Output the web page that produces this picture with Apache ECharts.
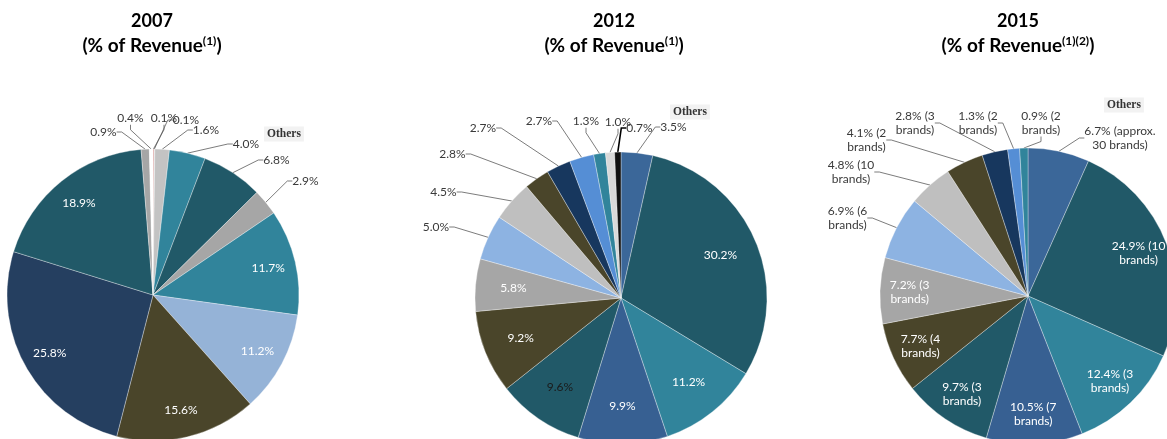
<!DOCTYPE html>
<html><head><meta charset="utf-8">
<script src="https://cdn.jsdelivr.net/npm/echarts@6/dist/echarts.min.js"></script>
<style>html,body{margin:0;padding:0;background:#fff}#c{width:1167px;height:439px}</style>
</head><body><div id="c"></div>
<script>
// ---- data ----
const values2007 = [0.1, 0.1, 1.6, 4.0, 6.8, 2.9, 11.7, 11.2, 15.6, 25.8, 18.9, 0.9, 0.4];
const values2012 = [3.5, 30.2, 11.2, 9.9, 9.6, 9.2, 5.8, 5.0, 4.5, 2.8, 2.7, 2.7, 1.3, 1.0, 0.7];
const values2015 = [6.7, 24.9, 12.4, 10.5, 9.7, 7.7, 7.2, 6.9, 4.8, 4.1, 2.8, 1.3, 0.9];
const brands2015 = ['approx. 30', '10', '3', '7', '3', '4', '3', '6', '10', '2', '3', '2', '2'];
const titleYears = ['2007', '2012', '2015'];
const titleNotes = ['(1)', '(1)', '(1)(2)'];
const othersText = 'Others';

// ---- styles ----
const DT = '#215968', TE = '#31849b', NV = '#253f60', OL = '#4a452a', LB = '#95b3d7',
      GR = '#a6a6a6', LG = '#bfbfbf', BL = '#3b6799', NV2 = '#17375e', BL2 = '#558ed5', LB2 = '#8db3e2';
const colors2007 = ['#c0504d', '#d9d9d9', '#c3c3c3', TE, DT, GR, TE, LB, OL, NV, DT, GR, '#ffffff'];
const colors2012 = [BL, DT, TE, '#376092', DT, OL, GR, LB2, LG, OL, NV2, BL2, TE, '#d9d9d9', '#111111'];
const colors2015 = [BL, DT, TE, '#376092', DT, OL, GR, LB2, LG, OL, NV2, BL2, TE];

const pct = v => v.toFixed(1) + '%';
const brandText = (v, b) => { const w = (b + ' brands').split(' '); return pct(v) + ' (' + w[0] + '\n' + w.slice(1).join(' ') + ')'; };

const pies = [
  { values: values2007, colors: colors2007, center: [153, 295], r: 146, inner: 0.58,
    inside: [6, 7, 8, 9, 10], text: i => pct(values2007[i]),
    spots: {0: [164, 118], 1: [186, 120], 2: [206, 130], 3: [246, 144], 4: [276.5, 160], 5: [305.5, 181], 11: [103.5, 132], 12: [130.5, 118]},
    titleX: 152, othersPos: [284, 134] },
  { values: values2012, colors: colors2012, center: [621, 298], r: 146, inner: 0.44,
    inside: [1, 2, 3, 4, 5, 6], text: i => pct(values2012[i]), darkInside: [4],
    spots: {0: [673.5, 127], 14: [639.5, 128], 13: [618, 122], 12: [586, 121], 11: [539, 121], 10: [483, 128], 9: [452.5, 154], 8: [443.5, 192], 7: [436, 227]},
    titleX: 614, othersPos: [690, 112] },
  { values: values2015, colors: colors2015, center: [1028, 296], r: 148, inner: 0.56,
    inside: [1, 2, 3, 4, 5, 6], text: i => brandText(values2015[i], brands2015[i]),
    spots: {0: [1120, 138], 12: [1041, 123], 11: [978, 123], 10: [915, 123], 9: [866.5, 140], 8: [851, 172], 7: [847.5, 218]},
    titleX: 1018, othersPos: [1124, 105] }
];

const FONT = 'Lato, "Open Sans", sans-serif';
const series = [];
pies.forEach((p, si) => {
  series.push({
    type: 'pie', center: p.center, radius: p.r, startAngle: 90, clockwise: true,
    avoidLabelOverlap: false, silent: true, animation: false,
    itemStyle: { borderColor: 'rgba(255,255,255,0.55)', borderWidth: 0.6 },
    data: p.values.map((v, i) => {
      const out = !!p.spots[i];
      const black = p.colors[i] === '#111111';
      return {
        value: v, name: 's' + si + '_' + i, itemStyle: { color: p.colors[i] },
        label: { show: out, position: 'outside', formatter: p.text(i), color: '#3a3a3a',
                 fontFamily: FONT, fontSize: 12, lineHeight: 13.5, align: 'center' },
        labelLine: { show: out, length: 8, length2: 5,
                     lineStyle: { color: black ? '#000' : '#5a5a5a', width: black ? 1.6 : 0.8 } }
      };
    }),
    labelLayout: params => {
      const s = p.spots[params.dataIndex];
      return s ? { x: s[0], y: s[1], align: 'center', verticalAlign: 'middle' } : {};
    }
  });
  series.push({
    type: 'pie', center: p.center, radius: [p.r * p.inner, p.r], startAngle: 90, clockwise: true,
    avoidLabelOverlap: false, silent: true, animation: false, z: 5,
    itemStyle: { color: 'rgba(0,0,0,0)', borderWidth: 0 },
    labelLine: { show: false },
    data: p.values.map((v, i) => {
      const show = p.inside.indexOf(i) >= 0;
      const dark = p.darkInside && p.darkInside.indexOf(i) >= 0;
      return { value: v, name: 'o' + si + '_' + i,
        label: { show: show, position: 'inside', formatter: p.text(i), color: dark ? '#1a1a1a' : '#ffffff',
                 fontFamily: FONT, fontSize: 12, lineHeight: 14, align: 'center' } };
    })
  });
});

const graphics = [];
pies.forEach((p, si) => {
  graphics.push({ type: 'text', x: p.titleX, y: 21, silent: true,
    style: { text: titleYears[si], font: 'bold 18px ' + FONT, fill: '#000', align: 'center', verticalAlign: 'middle' } });
  graphics.push({ type: 'text', x: p.titleX, y: 46, silent: true,
    style: { text: '{t|(% of Revenue}{s|' + titleNotes[si] + '}{t|)}', align: 'center', verticalAlign: 'middle',
      rich: { t: { font: 'bold 19px ' + FONT, fill: '#000', lineHeight: 22 },
              s: { font: 'bold 12px ' + FONT, fill: '#000', verticalAlign: 'top', lineHeight: 22, padding: [0, 0, 8, 0] } } } });
  graphics.push({ type: 'text', x: p.othersPos[0], y: p.othersPos[1], silent: true,
    style: { text: othersText, font: 'bold 11.5px "Liberation Serif", "DejaVu Serif", serif', fill: '#333',
      align: 'center', verticalAlign: 'middle', backgroundColor: '#f2f2f2', padding: [2, 3, 1, 3] } });
});

const chart = echarts.init(document.getElementById('c'));
chart.setOption({ animation: false, backgroundColor: '#fff', series: series, graphic: graphics });
</script></body></html>
